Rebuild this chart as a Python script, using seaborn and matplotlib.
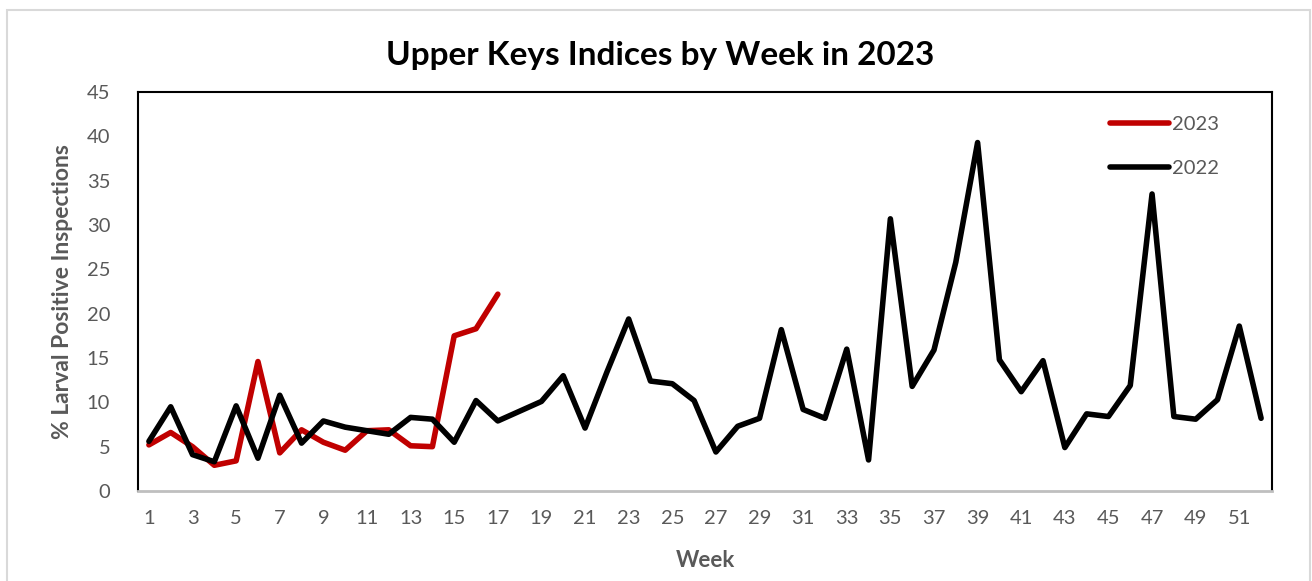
import matplotlib
matplotlib.use("Agg")
import matplotlib.pyplot as plt
import seaborn as sns
import pandas as pd
from matplotlib.patches import Rectangle

weeks_2022 = list(range(1, 53))
vals_2022 = [5.6, 9.5, 4.1, 3.3, 9.6, 3.7, 10.8, 5.4, 7.9, 7.2,
             6.8, 6.4, 8.3, 8.1, 5.5, 10.2, 7.9, 9.0, 10.1, 13.0,
             7.1, 13.4, 19.4, 12.4, 12.1, 10.2, 4.4, 7.3, 8.2, 18.2,
             9.2, 8.2, 16.0, 3.5, 30.7, 11.8, 15.9, 25.8, 39.3, 14.8,
             11.2, 14.7, 4.9, 8.7, 8.4, 11.9, 33.5, 8.4, 8.1, 10.3,
             18.6, 8.2]
weeks_2023 = list(range(1, 18))
vals_2023 = [5.2, 6.6, 5.0, 2.9, 3.4, 14.6, 4.3, 6.9, 5.5, 4.6,
             6.8, 6.9, 5.1, 5.0, 17.5, 18.3, 22.2]
xtick_weeks = list(range(1, 53, 2))

df = pd.concat([
    pd.DataFrame({"week": weeks_2023, "value": vals_2023, "year": "2023"}),
    pd.DataFrame({"week": weeks_2022, "value": vals_2022, "year": "2022"}),
])

sns.set_style("white")
plt.rcParams["font.family"] = ["Lato", "DejaVu Sans"]

fig = plt.figure(figsize=(13.12, 5.81), dpi=100)
ax = fig.add_axes([138 / 1312, 1 - 491 / 581, (1272 - 138) / 1312, (491 - 92) / 581])

# outer chart border (light gray)
fig.patches.append(Rectangle((7 / 1312, -0.01), (1310 - 7) / 1312, 1 - 10 / 581 + 0.01,
                             transform=fig.transFigure, fill=False,
                             edgecolor="#D9D9D9", linewidth=1.5))

sns.lineplot(data=df, x="week", y="value", hue="year", hue_order=["2023", "2022"],
             palette={"2023": "#C00000", "2022": "#000000"}, linewidth=4,
             ax=ax, legend=True)
for line in ax.get_lines():
    line.set_solid_capstyle("round")
    line.set_solid_joinstyle("round")

ax.set_xlim(0.5, 52.5)
ax.set_ylim(0, 45)
ax.set_yticks(range(0, 50, 5))
ax.set_xticks(xtick_weeks)
ax.set_xticklabels([str(w) for w in xtick_weeks])
ax.tick_params(axis="both", length=0, labelsize=14.5, colors="#595959")
ax.tick_params(axis="x", pad=14)
ax.tick_params(axis="y", pad=20)

for side in ["left", "top", "right"]:
    ax.spines[side].set_color("black")
    ax.spines[side].set_linewidth(1.5)
ax.spines["bottom"].set_color("#BFBFBF")
ax.spines["bottom"].set_linewidth(2)

ax.set_xlabel("Week", fontsize=16, fontweight="bold", color="#595959", labelpad=16)
ax.set_ylabel("% Larval Positive Inspections", fontsize=16.5, fontweight="bold",
              color="#595959", labelpad=10)
fig.text(0.503, 1 - 55 / 581, "Upper Keys Indices by Week in 2023", ha="center",
         va="center", fontsize=24, fontweight="bold", color="black")

leg = ax.legend(loc="upper left", bbox_to_anchor=((1092 - 138) / 1134, 0.985), frameon=False,
                fontsize=14.5, handlelength=2.9, handletextpad=0.15, labelspacing=1.35)
for text in leg.get_texts():
    text.set_color("#595959")
for h in leg.get_lines():
    h.set_linewidth(4)
    h.set_solid_capstyle("round")

fig.savefig("out.png", dpi=100)
